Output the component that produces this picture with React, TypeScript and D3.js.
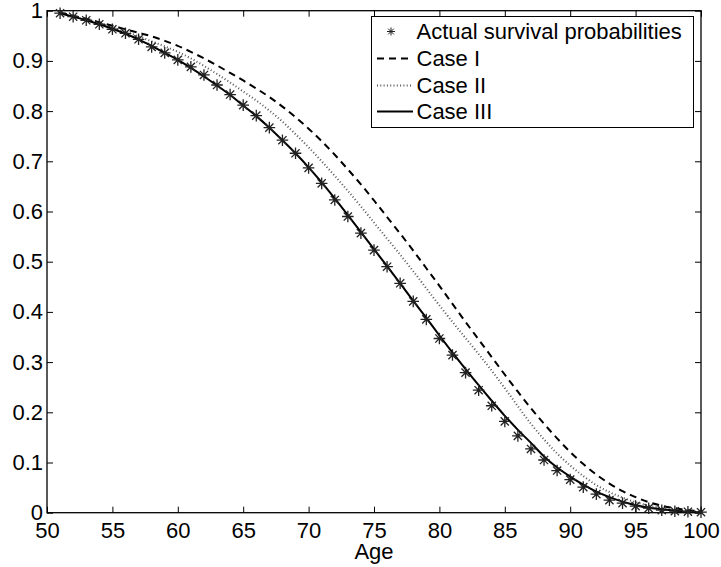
import React, { useEffect, useRef } from "react";
import * as d3 from "d3";

const ages = [51, 52, 53, 54, 55, 56, 57, 58, 59, 60, 61, 62, 63, 64, 65, 66, 67, 68, 69, 70, 71, 72, 73, 74, 75, 76, 77, 78, 79, 80, 81, 82, 83, 84, 85, 86, 87, 88, 89, 90, 91, 92, 93, 94, 95, 96, 97, 98, 99, 100];

const actual = [0.995, 0.988, 0.981, 0.973, 0.963, 0.955, 0.943, 0.928, 0.916, 0.902, 0.888, 0.872, 0.852, 0.833, 0.812, 0.791, 0.767, 0.742, 0.716, 0.687, 0.656, 0.623, 0.59, 0.557, 0.523, 0.49, 0.457, 0.421, 0.385, 0.347, 0.314, 0.279, 0.244, 0.213, 0.182, 0.153, 0.127, 0.105, 0.084, 0.066, 0.051, 0.037, 0.025, 0.019, 0.013, 0.009, 0.005, 0.003, 0.002, 0.001];

const caseI = [0.996, 0.99, 0.984, 0.977, 0.97, 0.963, 0.956, 0.949, 0.94, 0.93, 0.918, 0.905, 0.891, 0.876, 0.861, 0.845, 0.828, 0.809, 0.788, 0.765, 0.74, 0.713, 0.684, 0.654, 0.622, 0.589, 0.556, 0.522, 0.487, 0.452, 0.416, 0.38, 0.345, 0.31, 0.275, 0.241, 0.208, 0.177, 0.148, 0.121, 0.097, 0.076, 0.058, 0.043, 0.031, 0.021, 0.014, 0.009, 0.005, 0.003];

const caseII = [0.995, 0.989, 0.982, 0.975, 0.967, 0.958, 0.949, 0.939, 0.929, 0.918, 0.905, 0.89, 0.874, 0.857, 0.839, 0.821, 0.801, 0.779, 0.754, 0.728, 0.7, 0.671, 0.641, 0.61, 0.578, 0.546, 0.514, 0.481, 0.447, 0.413, 0.38, 0.348, 0.316, 0.283, 0.248, 0.212, 0.177, 0.146, 0.118, 0.094, 0.073, 0.055, 0.041, 0.03, 0.021, 0.014, 0.009, 0.005, 0.003, 0.002];

const caseIII = [0.995, 0.988, 0.981, 0.973, 0.964, 0.954, 0.943, 0.93, 0.916, 0.902, 0.886, 0.869, 0.851, 0.832, 0.811, 0.79, 0.767, 0.742, 0.716, 0.688, 0.658, 0.626, 0.593, 0.559, 0.525, 0.491, 0.457, 0.422, 0.388, 0.353, 0.319, 0.286, 0.254, 0.223, 0.193, 0.165, 0.139, 0.112, 0.09, 0.072, 0.056, 0.042, 0.031, 0.022, 0.015, 0.01, 0.007, 0.004, 0.002, 0.001];

const xTicks = [50, 55, 60, 65, 70, 75, 80, 85, 90, 95, 100];
const yTicks = [0, 0.1, 0.2, 0.3, 0.4, 0.5, 0.6, 0.7, 0.8, 0.9, 1];
const legendLabels = ["Actual survival probabilities", "Case I", "Case II", "Case III"];
const xLabel = "Age";

const FONT = "'Liberation Sans', Arial, Helvetica, sans-serif";
const FS = 22;

export default function App() {
  const ref = useRef<SVGSVGElement>(null);

  useEffect(() => {
    document.body.style.margin = "0";
    const svg = d3.select(ref.current);
    svg.selectAll("*").remove();

    const W = 721, H = 567;
    const L = 47, R = 701, T = 10.7, B = 512.7;
    const x = d3.scaleLinear().domain([50, 100]).range([L, R]);
    const y = d3.scaleLinear().domain([0, 1]).range([B, T]);

    svg.append("rect").attr("width", W).attr("height", H).attr("fill", "#fff");

    const styleAxis = (g: any, labels: boolean) => {
      g.select(".domain").remove();
      g.selectAll(".tick line").attr("stroke", "#000").attr("stroke-width", 1);
      if (!labels) g.selectAll(".tick text").remove();
      else g.selectAll(".tick text").attr("font-family", FONT).attr("font-size", FS).attr("fill", "#000");
    };

    svg.append("g").attr("transform", `translate(0,${B})`)
      .call(d3.axisBottom(x).tickValues(xTicks).tickSizeInner(-6).tickSizeOuter(0).tickPadding(10).tickFormat((d: any) => String(d)))
      .call((g: any) => styleAxis(g, true));
    svg.append("g").attr("transform", `translate(0,${T})`)
      .call(d3.axisTop(x).tickValues(xTicks).tickSizeInner(-6).tickSizeOuter(0))
      .call((g: any) => styleAxis(g, false));
    svg.append("g").attr("transform", `translate(${L},0)`)
      .call(d3.axisLeft(y).tickValues(yTicks).tickSizeInner(-6).tickSizeOuter(0).tickPadding(4).tickFormat((d: any) => String(d)))
      .call((g: any) => styleAxis(g, true));
    svg.append("g").attr("transform", `translate(${R},0)`)
      .call(d3.axisRight(y).tickValues(yTicks).tickSizeInner(-6).tickSizeOuter(0))
      .call((g: any) => styleAxis(g, false));

    svg.append("rect").attr("x", L).attr("y", T).attr("width", R - L).attr("height", B - T)
      .attr("fill", "none").attr("stroke", "#000").attr("stroke-width", 1.3);

    svg.append("text").attr("x", x(75)).attr("y", 559).attr("text-anchor", "middle")
      .attr("font-family", FONT).attr("font-size", FS).text(xLabel);

    const line = d3.line<number>().x((_, i) => x(ages[i])).y((d) => y(d)).curve(d3.curveMonotoneX);

    svg.append("path").attr("d", line(caseI) as string).attr("fill", "none")
      .attr("stroke", "#000").attr("stroke-width", 2).attr("stroke-dasharray", "7,5");
    svg.append("path").attr("d", line(caseII) as string).attr("fill", "none")
      .attr("stroke", "#555").attr("stroke-width", 2).attr("stroke-dasharray", "1,2.3");
    svg.append("path").attr("d", line(caseIII) as string).attr("fill", "none")
      .attr("stroke", "#000").attr("stroke-width", 2);

    const star = (s: number) => {
      const d = s * 0.707;
      return `M${-s},0L${s},0M0,${-s}L0,${s}M${-d},${-d}L${d},${d}M${-d},${d}L${d},${-d}`;
    };

    svg.append("g").selectAll("path").data(actual).join("path")
      .attr("transform", (d, i) => `translate(${x(ages[i])},${y(d)})`)
      .attr("d", star(5.8)).attr("stroke", "#222").attr("stroke-width", 1.3).attr("fill", "none");

    const lg = svg.append("g");
    lg.append("rect").attr("x", 371.5).attr("y", 16.5).attr("width", 322).attr("height", 111)
      .attr("fill", "#fff").attr("stroke", "#000").attr("stroke-width", 1);
    const rowY = [31.5, 58.5, 85.5, 111.5];
    const x0 = 377, x1 = 413;
    legendLabels.forEach((lab, i) => {
      const yy = rowY[i];
      if (i === 0) {
        lg.append("path").attr("transform", `translate(${(x0 + x1) / 2 - 4},${yy})`)
          .attr("d", star(4)).attr("stroke", "#222").attr("stroke-width", 1).attr("fill", "none");
      } else {
        const p = lg.append("line").attr("x1", x0).attr("x2", x1).attr("y1", yy).attr("y2", yy)
          .attr("stroke-width", 2).attr("stroke", i === 2 ? "#555" : "#000");
        if (i === 1) p.attr("stroke-dasharray", "7,5");
        if (i === 2) p.attr("stroke-dasharray", "1,2.3");
      }
      lg.append("text").attr("x", 416.5).attr("y", yy + 7.7)
        .attr("font-family", FONT).attr("font-size", FS).text(lab);
    });
  }, []);

  return <svg ref={ref} width={721} height={567} style={{ display: "block" }} />;
}
